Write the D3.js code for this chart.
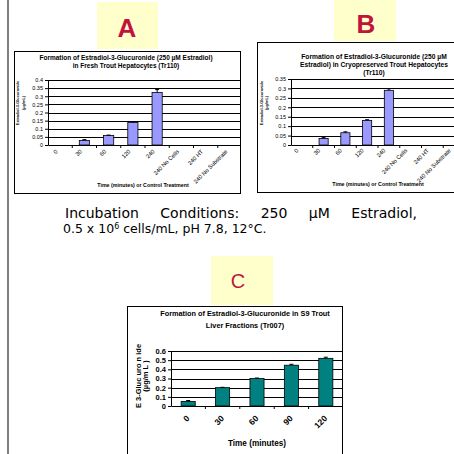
<!DOCTYPE html>
<html>
<head>
<meta charset="utf-8">
<script src="https://cdn.jsdelivr.net/npm/d3@7"></script>
<style>
  html, body { margin: 0; padding: 0; background: #fff; }
  svg { display: block; }
</style>
</head>
<body>
<div id="chart"></div>
<script>
// ---- data ----
const categoriesAB = ['0', '30', '60', '120', '240', '240 No Cells', '240 HT', '240 No Substrate']
const freshValues = [0, 0.028, 0.058, 0.138, 0.323, 0, 0, 0]
const freshErrors = [0, 0.005, 0.003, 0.005, 0.018, 0, 0, 0]
const freshTicks = [0, 0.05, 0.1, 0.15, 0.2, 0.25, 0.3, 0.35, 0.4]

const cryoValues = [0, 0.035, 0.065, 0.13, 0.29, 0, 0, 0]
const cryoErrors = [0, 0.004, 0.005, 0.004, 0.008, 0, 0, 0]
const cryoTicks = [0, 0.05, 0.1, 0.15, 0.2, 0.25, 0.3, 0.35]

const categoriesC = ['0', '30', '60', '90', '120']
const s9Values = [0.05, 0.2, 0.3, 0.445, 0.52]
const s9Errors = [0.01, 0.004, 0.005, 0.01, 0.012]
const s9Ticks = [0, 0.1, 0.2, 0.3, 0.4, 0.5, 0.6]

const W = 454, H = 454
const FONT = 'Liberation Sans, Arial, sans-serif'

const svg = d3.select('#chart').append('svg')
    .attr('width', W)
    .attr('height', H)
    .style('font-family', FONT)

// grey rule down the left side of the slide
svg.append('rect')
    .attr('x', 7).attr('y', 0)
    .attr('width', 2).attr('height', H)
    .attr('fill', '#808080')

// yellow letter tags
function tag(cfg) {
    svg.append('rect')
        .attr('x', cfg.x).attr('y', cfg.y)
        .attr('width', cfg.w).attr('height', cfg.h)
        .attr('fill', '#ffffcc')
    svg.append('text')
        .attr('x', cfg.tx).attr('y', cfg.ty)
        .attr('text-anchor', 'middle')
        .attr('font-size', cfg.size)
        .attr('font-weight', cfg.weight)
        .attr('fill', '#c0143c')
        .text(cfg.letter)
}

function barChart(cfg) {
    const g = svg.append('g')
    const b = cfg.box

    g.append('clipPath').attr('id', 'clip-' + cfg.id)
        .append('rect')
        .attr('x', b.x).attr('y', b.y).attr('width', b.w).attr('height', b.h)

    g.append('rect')
        .attr('x', b.x + 0.5).attr('y', b.y + 0.5)
        .attr('width', b.w).attr('height', b.h)
        .attr('fill', '#fff')
        .attr('stroke', '#000')
        .attr('stroke-width', 1)

    const body = g.append('g').attr('clip-path', `url(#clip-${cfg.id})`)

    const x = d3.scaleBand()
        .domain(cfg.categories)
        .range([cfg.plot.left, cfg.plot.right])
    const y = d3.scaleLinear()
        .domain([0, d3.max(cfg.yTicks)])
        .range([cfg.plot.bottom, cfg.plot.top])

    // title
    const title = body.append('text')
        .attr('text-anchor', 'middle')
        .attr('font-size', cfg.titleSize)
        .attr('font-weight', 'bold')
    cfg.title.forEach((line, i) => {
        title.append('tspan')
            .attr('x', cfg.titleX)
            .attr('y', cfg.titleY + i * cfg.titleLead)
            .text(line)
    })

    // horizontal gridlines
    body.append('g')
        .selectAll('line')
        .data(cfg.yTicks.filter(t => t > 0))
        .join('line')
        .attr('x1', cfg.plot.left).attr('x2', cfg.plot.right)
        .attr('y1', d => Math.round(y(d)) + 0.5)
        .attr('y2', d => Math.round(y(d)) + 0.5)
        .attr('stroke', '#000')
        .attr('stroke-width', 1)

    // bars (only categories that have a value)
    const rows = cfg.categories
        .map((c, i) => ({ c: c, v: cfg.values[i], e: cfg.errors[i] }))
        .filter(d => d.v > 0)
    const bw = x.bandwidth() * cfg.barRatio

    body.append('g')
        .selectAll('rect')
        .data(rows)
        .join('rect')
        .attr('x', d => x(d.c) + (x.bandwidth() - bw) / 2)
        .attr('y', d => y(d.v))
        .attr('width', bw)
        .attr('height', d => y(0) - y(d.v))
        .attr('fill', cfg.barColor)
        .attr('stroke', '#000')
        .attr('stroke-width', 0.8)

    // error bars (upper half only, as in Excel)
    const err = body.append('g').attr('stroke', '#000').attr('stroke-width', 1)
    err.selectAll('line.stem')
        .data(rows)
        .join('line')
        .attr('class', 'stem')
        .attr('x1', d => x(d.c) + x.bandwidth() / 2)
        .attr('x2', d => x(d.c) + x.bandwidth() / 2)
        .attr('y1', d => y(d.v))
        .attr('y2', d => y(d.v + d.e))
    err.selectAll('line.cap')
        .data(rows)
        .join('line')
        .attr('class', 'cap')
        .attr('x1', d => x(d.c) + x.bandwidth() / 2 - cfg.capW / 2)
        .attr('x2', d => x(d.c) + x.bandwidth() / 2 + cfg.capW / 2)
        .attr('y1', d => y(d.v + d.e))
        .attr('y2', d => y(d.v + d.e))

    // y axis
    const yAxis = body.append('g')
        .attr('transform', `translate(${cfg.plot.left},0)`)
        .call(d3.axisLeft(y)
            .tickValues(cfg.yTicks)
            .tickSize(3)
            .tickSizeOuter(0)
            .tickPadding(2)
            .tickFormat(d => String(d)))
    yAxis.selectAll('text')
        .attr('font-family', FONT)
        .attr('font-size', cfg.yTickSize)
        .attr('font-weight', cfg.tickWeight)
        .attr('fill', '#000')
    yAxis.selectAll('line, path').attr('stroke', '#000')

    // x axis line + ticks between categories
    const xAxis = body.append('g')
        .attr('transform', `translate(0,${cfg.plot.bottom})`)
        .call(d3.axisBottom(x).tickSize(0).tickSizeOuter(0).tickFormat(''))
    xAxis.select('.domain').attr('stroke', '#000')
    xAxis.selectAll('line.sep')
        .data(cfg.categories.slice(1).concat(['__end']))
        .join('line')
        .attr('class', 'sep')
        .attr('x1', d => d === '__end' ? cfg.plot.right : x(d))
        .attr('x2', d => d === '__end' ? cfg.plot.right : x(d))
        .attr('y1', 0).attr('y2', 3)
        .attr('stroke', '#000')

    // rotated category labels
    body.append('g')
        .selectAll('text')
        .data(cfg.categories)
        .join('text')
        .attr('transform', d => `translate(${x(d) + x.bandwidth() / 2 + cfg.labelDx},${cfg.plot.bottom + cfg.labelDy}) rotate(-45)`)
        .attr('text-anchor', 'end')
        .attr('font-size', cfg.xTickSize)
        .attr('font-weight', cfg.tickWeight)
        .text(d => d)

    // axis titles
    body.append('text')
        .attr('x', (cfg.plot.left + cfg.plot.right) / 2 + cfg.xTitleDx)
        .attr('y', cfg.xTitleY)
        .attr('text-anchor', 'middle')
        .attr('font-size', cfg.xTitleSize)
        .attr('font-weight', 'bold')
        .text(cfg.xTitle)

    const yt = body.append('text')
        .attr('transform', `translate(${cfg.yTitleX},${cfg.yTitleY}) rotate(-90)`)
        .attr('text-anchor', 'middle')
        .attr('font-size', cfg.yTitleSize)
        .attr('font-weight', 'bold')
    cfg.yTitle.forEach((line, i) => {
        yt.append('tspan')
            .attr('x', 0)
            .attr('y', i * cfg.yTitleLead)
            .text(line)
    })
}

// ---- panel A ----
tag({ x: 97, y: 2, w: 61, h: 47, letter: 'A', size: 26, weight: 'bold', tx: 127, ty: 37 })
barChart({
    id: 'a',
    box: { x: 14, y: 51, w: 226, h: 142 },
    plot: { left: 48, right: 242, top: 80, bottom: 145 },
    categories: categoriesAB, values: freshValues, errors: freshErrors, yTicks: freshTicks,
    barColor: '#9999ff', barRatio: 0.42, capW: 4,
    title: ['Formation of Estradiol-3-Glucuronide (250 µM Estradiol)', 'in Fresh Trout Hepatocytes (Tr110)'],
    titleX: 126, titleY: 60, titleLead: 8, titleSize: 6.5,
    yTickSize: 5.5, xTickSize: 5.8, tickWeight: 'normal', labelDx: -2, labelDy: 7,
    xTitle: 'Time (minutes) or Control Treatment', xTitleY: 187, xTitleSize: 5.3, xTitleDx: -2,
    yTitle: ['Estradiol-3-Glucuronide', '(µg/mL)'], yTitleX: 18.5, yTitleY: 103, yTitleSize: 3.9, yTitleLead: 6
})

// ---- panel B ----
tag({ x: 334, y: 0, w: 62, h: 41, letter: 'B', size: 26, weight: 'bold', tx: 366, ty: 33 })
barChart({
    id: 'b',
    box: { x: 257, y: 42, w: 210, h: 150 },
    plot: { left: 291, right: 465, top: 79, bottom: 145 },
    categories: categoriesAB, values: cryoValues, errors: cryoErrors, yTicks: cryoTicks,
    barColor: '#9999ff', barRatio: 0.42, capW: 4,
    title: ['Formation of Estradiol-3-Glucuronide (250 µM', 'Estradiol) in Cryopreserved Trout Hepatocytes', '(Tr110)'],
    titleX: 374, titleY: 59, titleLead: 8, titleSize: 6.7,
    yTickSize: 5.5, xTickSize: 5.8, tickWeight: 'normal', labelDx: -3, labelDy: 6,
    xTitle: 'Time (minutes) or Control Treatment', xTitleY: 186, xTitleSize: 5.3, xTitleDx: 0,
    yTitle: ['Estradiol-3-Glucuronide', '(µg/mL)'], yTitleX: 262.5, yTitleY: 103, yTitleSize: 3.9, yTitleLead: 5.5
})

// ---- incubation note (first line justified) ----
const note = svg.append('g')
    .attr('font-family', 'DejaVu Sans, Verdana, sans-serif')
    .attr('fill', '#000')
const noteWords = ['Incubation', 'Conditions:', '250', 'µM', 'Estradiol,']
const wordNodes = noteWords.map(w => note.append('text').attr('y', 218).attr('font-size', 14).text(w))
const widths = wordNodes.map(t => t.node().getComputedTextLength())
const left = 65, right = 417
const gap = (right - left - d3.sum(widths)) / (noteWords.length - 1)
let cx = left
wordNodes.forEach((t, i) => { t.attr('x', cx); cx += widths[i] + gap })

const line2 = note.append('text').attr('x', 63).attr('y', 233).attr('font-size', 12.5)
line2.append('tspan').text('0.5 x 10')
line2.append('tspan').attr('dy', -4).attr('font-size', 8).text('6')
line2.append('tspan').attr('dy', 4).text(' cells/mL, pH 7.8, 12°C.')

// ---- panel C ----
tag({ x: 211, y: 256, w: 62, h: 49, letter: 'C', size: 20, weight: 'normal', tx: 238, ty: 288 })
barChart({
    id: 'c',
    box: { x: 127, y: 306, w: 215, h: 160 },
    plot: { left: 171, right: 343, top: 351, bottom: 406 },
    categories: categoriesC, values: s9Values, errors: s9Errors, yTicks: s9Ticks,
    barColor: '#008080', barRatio: 0.41, capW: 4,
    title: ['Formation of Estradiol-3-Glucuronide  in S9 Trout', 'Liver Fractions (Tr007)'],
    titleX: 245, titleY: 316, titleLead: 12, titleSize: 7.3,
    yTickSize: 7.5, xTickSize: 8.5, tickWeight: 'bold', labelDx: 2, labelDy: 13,
    xTitle: 'Time (minutes)', xTitleY: 446, xTitleSize: 8.2, xTitleDx: 0,
    yTitle: ['E 3-Gluc uro n ide', '(µg/m L )'], yTitleX: 141, yTitleY: 376, yTitleSize: 7.5, yTitleLead: 7
})
</script>
</body>
</html>
